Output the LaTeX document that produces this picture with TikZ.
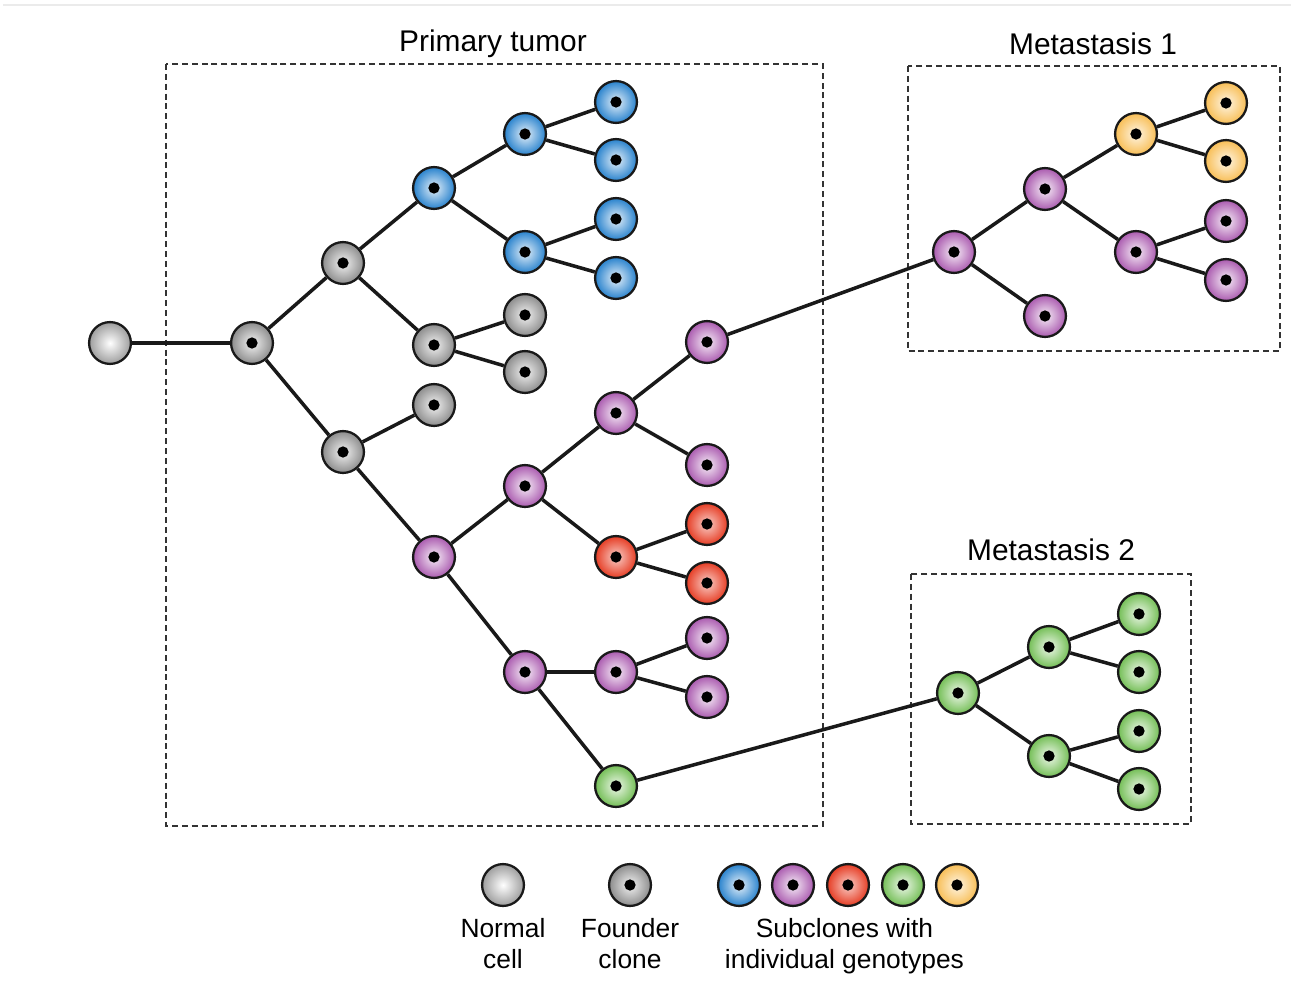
\documentclass[tikz,border=0pt]{standalone}
\usepackage{fontspec}
\setmainfont{Liberation Sans}
\usepackage{tikz}
\usetikzlibrary{positioning,shadings}

\definecolor{cellgray}{RGB}{140,140,140}
\definecolor{cellblue}{RGB}{40,130,205}
\definecolor{cellpurple}{RGB}{170,90,175}
\definecolor{cellred}{RGB}{230,60,35}
\definecolor{cellgreen}{RGB}{115,190,85}
\definecolor{cellyellow}{RGB}{248,190,85}

\tikzset{
  cell/.style={circle, draw=black!90, line width=0.65pt, minimum size=11.9pt, inner sep=0pt, shading=radial},
  nucleus/.style={path picture={\fill[black] (path picture bounding box.center) circle (1.6pt);}},
  normal/.style={cell, inner color=white, outer color=cellgray!85},
  founder/.style={cell, nucleus, inner color=white!95!black, outer color=cellgray},
  blue/.style={cell, nucleus, inner color=cellblue!12!white, outer color=cellblue},
  purple/.style={cell, nucleus, inner color=cellpurple!10!white, outer color=cellpurple},
  red/.style={cell, nucleus, inner color=cellred!25!white, outer color=cellred},
  green/.style={cell, nucleus, inner color=cellgreen!12!white, outer color=cellgreen},
  yellow/.style={cell, nucleus, inner color=cellyellow!15!white, outer color=cellyellow},
  branch/.style={line width=1pt, black!90},
  sitebox/.style={draw=black!80, line width=0.5pt, dash pattern=on 1.7pt off 1.1pt},
  title/.style={font=\fontsize{8.5}{10}\selectfont},
  legend/.style={font=\fontsize{7.5}{8.8}\selectfont, align=center, inner sep=0pt}
}

\begin{document}
\begin{tikzpicture}[x=0.01cm, y=-0.01cm]
  \useasboundingbox (0,0) rectangle (1291,988);
  \draw[black!8, line width=0.8pt] (3,5) -- (1291,5);

  % sites
  \draw[sitebox] (166,64) rectangle (823,826);
  \draw[sitebox] (908,66) rectangle (1280,351);
  \draw[sitebox] (911,574) rectangle (1191,824);
  \node[title] (tprim) at (493,44) {Primary tumor};
  \node[title] (tmet1) at (1093,44) {Metastasis 1};
  \node[title] (tmet2) at (1051,550) {Metastasis 2};

  % primary tumor
  \node[normal] (n0) at (110,343) {};
  \node[founder] (f0) at (252,343) {};
  \node[founder] (f1) at (343,263) {};
  \node[founder] (f2) at (343,452) {};
  \node[blue] (b1) at (434,188) {};
  \node[founder] (f3) at (434,345) {};
  \node[founder] (f4) at (434,405) {};
  \node[blue] (b2) at (525,134) {};
  \node[blue] (b3) at (525,252) {};
  \node[founder] (f5) at (525,315) {};
  \node[founder] (f6) at (525,372) {};
  \node[blue] (b4) at (616,102) {};
  \node[blue] (b5) at (616,160) {};
  \node[blue] (b6) at (616,219) {};
  \node[blue] (b7) at (616,278) {};
  \node[purple] (p1) at (434,557) {};
  \node[purple] (p2) at (525,486) {};
  \node[purple] (p3) at (525,672) {};
  \node[purple] (p4) at (616,413) {};
  \node[red] (r1) at (616,557) {};
  \node[purple] (p7) at (616,672) {};
  \node[green] (g1) at (616,786) {};
  \node[purple] (p5) at (707,342) {};
  \node[purple] (p6) at (707,465) {};
  \node[red] (r2) at (707,524) {};
  \node[red] (r3) at (707,583) {};
  \node[purple] (p8) at (707,638) {};
  \node[purple] (p9) at (707,697) {};

  % metastasis 1
  \node[purple] (m1) at (954,252) {};
  \node[purple] (m2) at (1045,189) {};
  \node[purple] (m3) at (1045,316) {};
  \node[yellow] (y1) at (1136,134) {};
  \node[purple] (m4) at (1136,252) {};
  \node[yellow] (y2) at (1226,103) {};
  \node[yellow] (y3) at (1226,161) {};
  \node[purple] (m5) at (1226,221) {};
  \node[purple] (m6) at (1226,280) {};

  % metastasis 2
  \node[green] (g2) at (958,693) {};
  \node[green] (g3) at (1049,647) {};
  \node[green] (g4) at (1049,756) {};
  \node[green] (g5) at (1139,614) {};
  \node[green] (g6) at (1139,672) {};
  \node[green] (g7) at (1139,731) {};
  \node[green] (g8) at (1139,789) {};

  % branches
  \draw[branch] (n0) -- (f0);
  \draw[branch] (f0) -- (f1);
  \draw[branch] (f0) -- (f2);
  \draw[branch] (f1) -- (b1);
  \draw[branch] (f1) -- (f3);
  \draw[branch] (b1) -- (b2);
  \draw[branch] (b1) -- (b3);
  \draw[branch] (b2) -- (b4);
  \draw[branch] (b2) -- (b5);
  \draw[branch] (b3) -- (b6);
  \draw[branch] (b3) -- (b7);
  \draw[branch] (f3) -- (f5);
  \draw[branch] (f3) -- (f6);
  \draw[branch] (f2) -- (f4);
  \draw[branch] (f2) -- (p1);
  \draw[branch] (p1) -- (p2);
  \draw[branch] (p1) -- (p3);
  \draw[branch] (p2) -- (p4);
  \draw[branch] (p2) -- (r1);
  \draw[branch] (p4) -- (p5);
  \draw[branch] (p4) -- (p6);
  \draw[branch] (r1) -- (r2);
  \draw[branch] (r1) -- (r3);
  \draw[branch] (p3) -- (p7);
  \draw[branch] (p3) -- (g1);
  \draw[branch] (p7) -- (p8);
  \draw[branch] (p7) -- (p9);
  \draw[branch] (p5) -- (m1);
  \draw[branch] (m1) -- (m2);
  \draw[branch] (m1) -- (m3);
  \draw[branch] (m2) -- (y1);
  \draw[branch] (m2) -- (m4);
  \draw[branch] (y1) -- (y2);
  \draw[branch] (y1) -- (y3);
  \draw[branch] (m4) -- (m5);
  \draw[branch] (m4) -- (m6);
  \draw[branch] (g1) -- (g2);
  \draw[branch] (g2) -- (g3);
  \draw[branch] (g2) -- (g4);
  \draw[branch] (g3) -- (g5);
  \draw[branch] (g3) -- (g6);
  \draw[branch] (g4) -- (g7);
  \draw[branch] (g4) -- (g8);

  % legend
  \node[normal] (lnormal) at (503,885) {};
  \node[founder] (lfounder) at (630,885) {};
  \node[blue] (lblue) at (739,885) {};
  \node[purple] (lpurple) at (793,885) {};
  \node[red] (lred) at (848,885) {};
  \node[green] (lgreen) at (903,885) {};
  \node[yellow] (lyellow) at (957,885) {};
  \node[legend, below=3pt of lnormal] (tnormal) {Normal\\cell};
  \node[legend, below=3pt of lfounder] (tfounder) {Founder\\clone};
  \node[legend, below=3pt of lred, xshift=-1pt] (tsub) {Subclones with\\individual genotypes};
\end{tikzpicture}
\end{document}
